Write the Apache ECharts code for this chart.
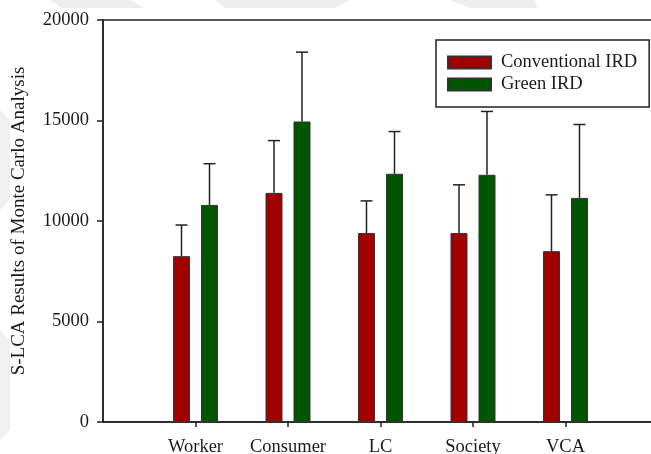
<!DOCTYPE html>
<html>
<head>
<meta charset="utf-8">
<script src="https://cdn.jsdelivr.net/npm/echarts@6/dist/echarts.min.js"></script>
<style>
  html, body { margin: 0; padding: 0; background: #fff; }
  #chart { width: 651px; height: 454px; }
</style>
</head>
<body>
<div id="chart"></div>
<script>
// data
var categories = ["Worker", "Consumer", "LC", "Society", "VCA"];
var conventionalMean = [8250, 11400, 9400, 9400, 8500];
var conventionalUpper = [9800, 14000, 11000, 11800, 11300];
var greenMean = [10800, 14950, 12350, 12300, 11150];
var greenUpper = [12850, 18400, 14450, 15450, 14800];
var yTicks = [0, 5000, 10000, 15000, 20000];

var seriesNames = ["Conventional IRD", "Green IRD"];
var colorList = ["#a00000", "#005500"];

var barWidth = 17;
var barGapPx = 11;
var halfStep = (barWidth + barGapPx) / 2;

// empty slot at each end so the categories sit at 1..5
var axisData = [""].concat(categories, [""]);

function toPairs(values) {
    return values.map(function (v, i) {
        return [i + 1, v];
    });
}

function toErr(mean, upper) {
    return mean.map(function (v, i) {
        return [i + 1, v, upper[i]];
    });
}

function errorBar(shift) {
    return function (params, api) {
        var base = api.coord([api.value(0), api.value(1)]);
        var top = api.coord([api.value(0), api.value(2)]);
        var x = base[0] + shift;
        var style = { stroke: "#222", lineWidth: 1.5 };
        return {
            type: "group",
            children: [
                { type: "line", shape: { x1: x, y1: base[1], x2: x, y2: top[1] }, style: style },
                { type: "line", shape: { x1: x - 6, y1: top[1], x2: x + 6, y2: top[1] }, style: style },
            ],
        };
    };
}

var font = "Liberation Serif";

var option = {
    backgroundColor: "#fff",
    animation: false,
    textStyle: { fontFamily: font, color: "#1a1a1a" },
    graphic: [
        // faint scan watermark along the top and left edge
        { type: "polygon", shape: { points: [[50, 0], [130, 0], [145, 8], [62, 8]] }, style: { fill: "#ededed" }, z: -10 },
        { type: "polygon", shape: { points: [[215, 0], [350, 0], [335, 8], [225, 8]] }, style: { fill: "#ededed" }, z: -10 },
        { type: "polygon", shape: { points: [[450, 0], [535, 0], [537, 8], [470, 8]] }, style: { fill: "#ededed" }, z: -10 },
        { type: "polygon", shape: { points: [[0, 110], [10, 120], [10, 200], [0, 210]] }, style: { fill: "#f0f0f0" }, z: -10 },
        { type: "polygon", shape: { points: [[0, 330], [10, 340], [10, 430], [0, 440]] }, style: { fill: "#f0f0f0" }, z: -10 },
    ],
    grid: {
        left: 103,
        top: 20,
        right: -7,
        bottom: 32,
        outerBoundsMode: "none",
        show: true,
        borderColor: "#222",
        borderWidth: 1.5,
    },
    legend: {
        data: seriesNames,
        orient: "vertical",
        left: 436,
        top: 40,
        padding: [13, 12, 13, 11],
        itemWidth: 43,
        itemHeight: 12,
        itemGap: 3,
        icon: "rect",
        borderColor: "#222",
        borderWidth: 1.5,
        selectedMode: false,
        textStyle: { fontFamily: font, fontSize: 18.5, color: "#1a1a1a", padding: [0, 0, 0, 5] },
    },
    xAxis: {
        type: "category",
        data: axisData,
        boundaryGap: false,
        axisLine: { lineStyle: { color: "#222", width: 1.5 } },
        axisTick: {
            length: 5,
            lineStyle: { color: "#222", width: 1.5 },
            interval: function (index) {
                return index > 0 && index < axisData.length - 1;
            },
        },
        axisLabel: { interval: 0, margin: 16, fontFamily: font, fontSize: 18.5, color: "#1a1a1a" },
        splitLine: { show: false },
    },
    yAxis: {
        type: "value",
        min: yTicks[0],
        max: yTicks[yTicks.length - 1],
        interval: yTicks[1] - yTicks[0],
        name: "S-LCA Results of Monte Carlo Analysis",
        nameLocation: "middle",
        nameGap: 74,
        nameTextStyle: { fontFamily: font, fontSize: 19, color: "#1a1a1a" },
        axisLine: { show: true, lineStyle: { color: "#222", width: 1.5 } },
        axisTick: { show: true, length: 6, lineStyle: { color: "#222", width: 1.5 } },
        axisLabel: {
            margin: 14,
            fontFamily: font,
            fontSize: 18.5,
            color: "#1a1a1a",
            formatter: function (v) {
                return String(v);
            },
        },
        splitLine: { show: false },
    },
    series: [
        {
            name: seriesNames[0],
            type: "bar",
            data: toPairs(conventionalMean),
            barWidth: barWidth,
            barGap: (barGapPx / barWidth) * 100 + "%",
            itemStyle: { color: colorList[0], borderColor: "#333", borderWidth: 1 },
            z: 2,
        },
        {
            name: seriesNames[1],
            type: "bar",
            data: toPairs(greenMean),
            barWidth: barWidth,
            barGap: (barGapPx / barWidth) * 100 + "%",
            itemStyle: { color: colorList[1], borderColor: "#333", borderWidth: 1 },
            z: 2,
        },
        {
            type: "custom",
            renderItem: errorBar(-halfStep),
            data: toErr(conventionalMean, conventionalUpper),
            encode: { x: 0, y: [1, 2] },
            z: 1,
        },
        {
            type: "custom",
            renderItem: errorBar(halfStep),
            data: toErr(greenMean, greenUpper),
            encode: { x: 0, y: [1, 2] },
            z: 1,
        },
    ],
};

var chart = echarts.init(document.getElementById("chart"), null, { renderer: "canvas" });
chart.setOption(option);
</script>
</body>
</html>
